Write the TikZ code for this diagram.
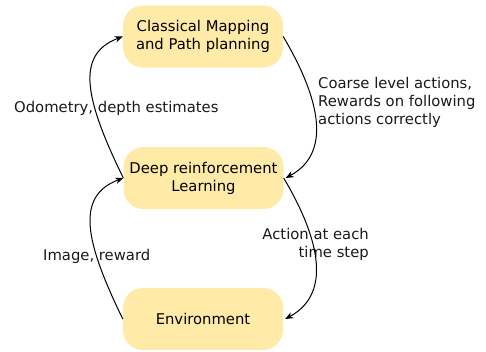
\documentclass[tikz,border=0pt]{standalone}
\usepackage{fontspec}
\setmainfont{DejaVu Sans}
\usetikzlibrary{arrows.meta}
\definecolor{boxfill}{RGB}{255,234,167}
\begin{document}
\begin{tikzpicture}[x=1pt,y=-1pt,
  every node/.style={font=\fontsize{14.8}{18}\selectfont},
  stagebox/.style={fill=boxfill,draw=none,rounded corners=20pt,minimum width=160pt,minimum height=62pt,align=center,inner sep=0pt},
  lbl/.style={inner sep=0pt,text=black!90},
  flow/.style={line width=1pt,-{Stealth[length=8pt,width=6.5pt,inset=2.5pt]}}]
\useasboundingbox (0,0) rectangle (486,351);
\node[stagebox] (cmp) at (203,36.5) {Classical Mapping\\and Path planning};
\node[stagebox] (drl) at (203.5,178) {Deep reinforcement\\Learning};
\node[stagebox] (env) at (203,319) {Environment};
\node[lbl,anchor=west] (odo) at (14,108) {Odometry, depth estimates};
\node[lbl,anchor=west,align=left] (coarse) at (318,102) {Coarse level actions,\\Rewards on following\\actions correctly};
\node[lbl,anchor=east,align=right] (act) at (369,244) {Action at each\\time step};
\node[lbl,anchor=west] (img) at (43,256) {Image, reward};
\draw[flow] (drl.west) .. controls +(-38,-78) and +(-48,18) .. (cmp.west);
\draw[flow] (cmp.east) .. controls +(32,54) and +(50,-27) .. ([xshift=2pt]drl.east);
\draw[flow] (drl.east) .. controls +(32,54) and +(50,-27) .. ([xshift=2pt]env.east);
\draw[flow] (env.west) .. controls +(-38,-78) and +(-48,18) .. (drl.west);
\end{tikzpicture}
\end{document}
